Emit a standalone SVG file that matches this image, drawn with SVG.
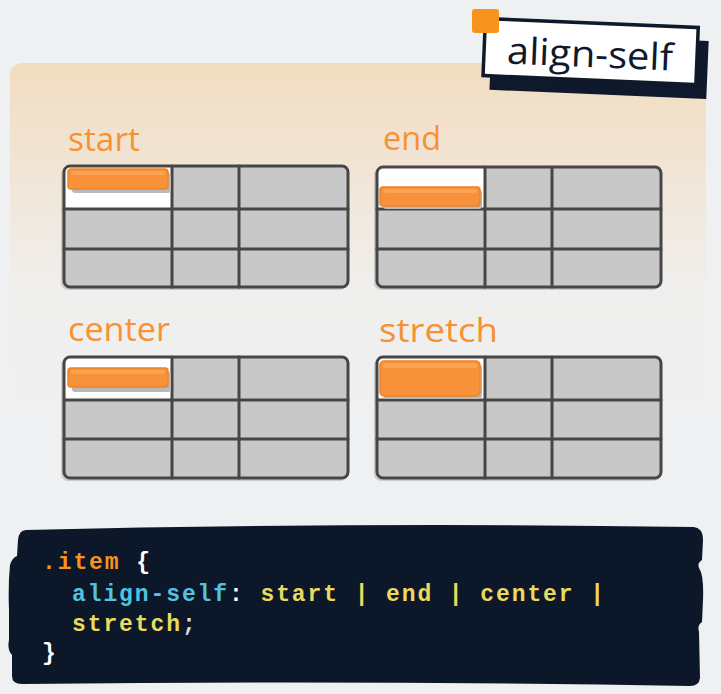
<svg xmlns="http://www.w3.org/2000/svg" width="721" height="694" viewBox="0 0 721 694">
<defs>
<linearGradient id="panelGrad" x1="0" y1="63" x2="0" y2="480" gradientUnits="userSpaceOnUse">
<stop offset="0" stop-color="#f2dcc0"/>
<stop offset="0.55" stop-color="#f0efee"/>
<stop offset="1" stop-color="#eef0f2"/>
</linearGradient>
<style>
.lbl{font-family:"Open Sans","Lato",sans-serif;font-size:32px;fill:#f79233;}
.cell{fill:#c8c8c8;}
.white{fill:#ffffff;}
.ln{stroke:#464646;stroke-width:3;fill:none;stroke-linecap:round;}
.ghost{stroke:#8a8a8a;stroke-width:2;fill:none;opacity:0.35;}
.bar{fill:#f7923a;stroke:#ee8424;stroke-width:1.5;}
.barhi{fill:#fbb067;opacity:0.55;}
.barsh{fill:#b9b9b9;}
.code{font-family:"Liberation Mono","DejaVu Sans Mono",monospace;font-size:23px;font-weight:bold;letter-spacing:1.9px;}
</style>
</defs>
<rect x="0" y="0" width="721" height="694" fill="#eef0f2"/>
<rect x="10" y="63" width="696" height="440" rx="12" fill="url(#panelGrad)"/>

<g id="title">
<g transform="rotate(2.4 590 55)">
<rect x="491" y="36" width="217" height="58" fill="#0e1a2b"/>
<rect x="484" y="23" width="213" height="57" fill="#ffffff" stroke="#0e1a2b" stroke-width="3.5"/>
<text x="590" y="67" text-anchor="middle" font-family="'Open Sans',Lato,sans-serif" font-size="37" fill="#0e1a2b" textLength="166" lengthAdjust="spacingAndGlyphs">align-self</text>
</g>
<rect x="472" y="9" width="27" height="24" rx="3" fill="#f7941d"/>
</g>

<g id="grid-start">
<text class="lbl" x="68" y="151" textLength="72" lengthAdjust="spacingAndGlyphs">start</text>
<rect class="ghost" x="62" y="168" width="284" height="121" rx="6"/>
<rect class="cell" x="64" y="166" width="284" height="121" rx="6"/>
<rect class="white" x="64" y="166" width="108" height="43"/>
<path class="ln" d="M172,166 V287 M239,166 V287 M64,209 H348 M64,249 H348"/>
<rect class="ln" x="64" y="166" width="284" height="121" rx="6"/>
<rect class="barsh" x="72" y="173" width="99" height="20" rx="3"/>
<rect class="bar" x="68" y="169" width="100" height="20" rx="3"/>
<rect class="barhi" x="71" y="171" width="94" height="4" rx="2"/>
</g>

<g id="grid-end">
<text class="lbl" x="383" y="150" textLength="58" lengthAdjust="spacingAndGlyphs">end</text>
<rect class="ghost" x="375" y="169" width="284" height="120" rx="6"/>
<rect class="cell" x="377" y="167" width="284" height="120" rx="6"/>
<rect class="white" x="377" y="167" width="108" height="42"/>
<path class="ln" d="M485,167 V287 M552,167 V287 M377,209 H661 M377,249 H661"/>
<rect class="ln" x="377" y="167" width="284" height="120" rx="6"/>
<rect class="barsh" x="383" y="190" width="99" height="19" rx="3"/>
<rect class="bar" x="380" y="187" width="100" height="19" rx="3"/>
<rect class="barhi" x="383" y="189" width="94" height="4" rx="2"/>
</g>

<g id="grid-center">
<text class="lbl" x="68" y="341" textLength="102" lengthAdjust="spacingAndGlyphs">center</text>
<rect class="ghost" x="62" y="359" width="284" height="121" rx="6"/>
<rect class="cell" x="64" y="357" width="284" height="121" rx="6"/>
<rect class="white" x="64" y="357" width="108" height="43"/>
<path class="ln" d="M172,357 V478 M239,357 V478 M64,400 H348 M64,439 H348"/>
<rect class="ln" x="64" y="357" width="284" height="121" rx="6"/>
<rect class="barsh" x="72" y="372" width="99" height="20" rx="3"/>
<rect class="bar" x="68" y="368" width="100" height="19" rx="3"/>
<rect class="barhi" x="71" y="370" width="94" height="4" rx="2"/>
</g>

<g id="grid-stretch">
<text class="lbl" x="379" y="342" textLength="119" lengthAdjust="spacingAndGlyphs">stretch</text>
<rect class="ghost" x="375" y="359" width="284" height="121" rx="6"/>
<rect class="cell" x="377" y="357" width="284" height="121" rx="6"/>
<rect class="white" x="377" y="357" width="108" height="43"/>
<path class="ln" d="M485,357 V478 M552,357 V478 M377,400 H661 M377,439 H661"/>
<rect class="ln" x="377" y="357" width="284" height="121" rx="6"/>
<rect class="barsh" x="383" y="364" width="99" height="35" rx="4"/>
<rect class="bar" x="380" y="361" width="100" height="35" rx="4"/>
<rect class="barhi" x="383" y="363" width="94" height="5" rx="2"/>
</g>

<g id="code">
<path d="M26,530 Q360,522 694,527 Q703,528 703,540 L702,560 Q697,563 699,568 Q704,575 703,600 L702,622 Q697,625 699,632 L700,678 Q699,686 690,686 Q360,680 22,684 Q12,684 12,676 L12,655 Q7,650 9,640 L9,610 Q8,585 10,565 Q12,558 17,556 L18,540 Q19,530 26,530 Z" fill="#0c1729"/>
<text class="code" x="42" y="569"><tspan fill="#f7941d">.item</tspan><tspan fill="#ffffff"> {</tspan></text>
<text class="code" x="72" y="601"><tspan fill="#4fc3df">align-self</tspan><tspan fill="#ffffff">: </tspan><tspan fill="#ebdb5c">start | end | center |</tspan></text>
<text class="code" x="72" y="631"><tspan fill="#ebdb5c">stretch</tspan><tspan fill="#dddddd">;</tspan></text>
<text class="code" x="42" y="660" fill="#ffffff">}</text>
</g>
</svg>
